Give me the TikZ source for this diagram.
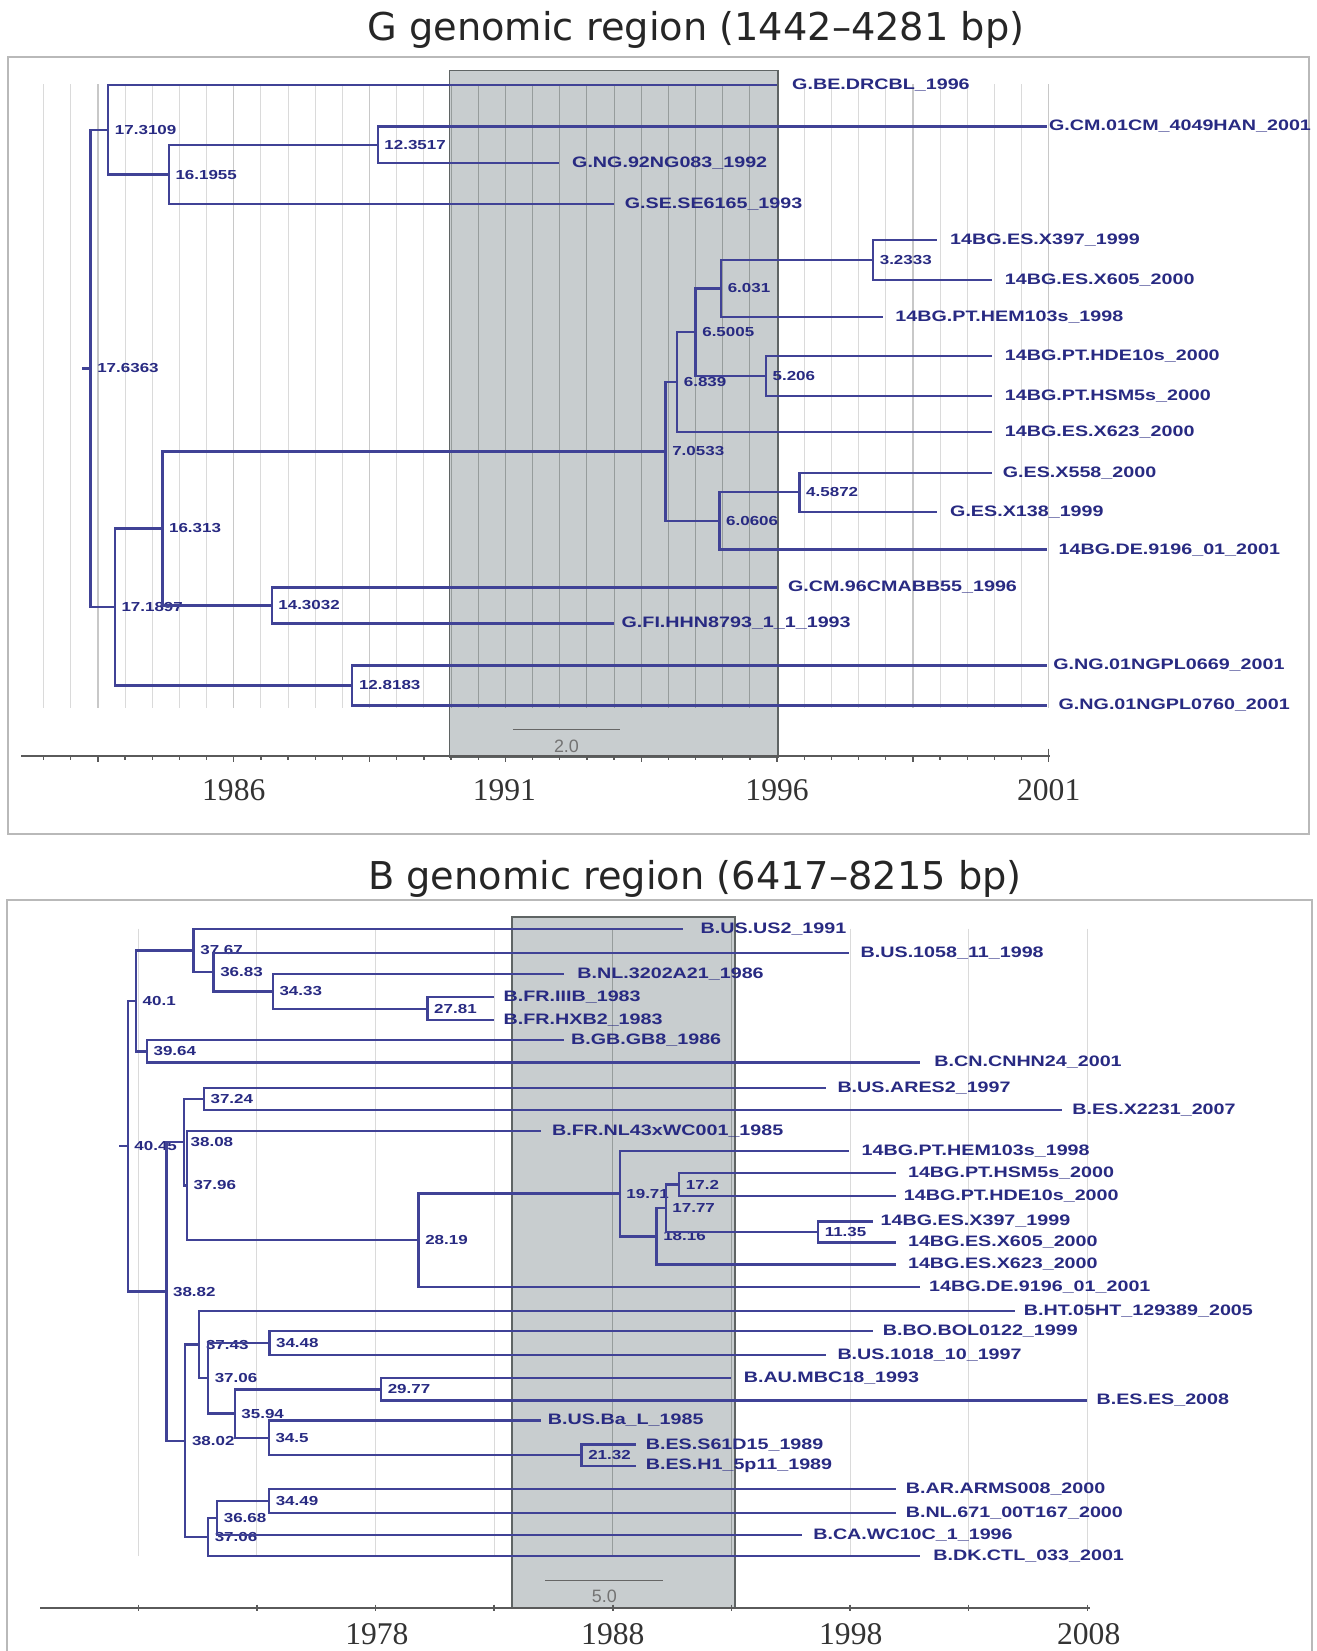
\documentclass[tikz,border=0pt]{standalone}
\usepackage{fontspec}
\setmainfont{Liberation Serif}
\newfontfamily\labfont[FakeStretch=1.3]{Liberation Sans}
\newfontfamily\titfont{DejaVu Sans}
\newfontfamily\sclfont{Liberation Sans}
\definecolor{branch}{RGB}{64,66,150}
\definecolor{labtext}{RGB}{40,42,130}
\definecolor{boxfill}{RGB}{200,205,207}
\definecolor{boxedge}{RGB}{95,100,100}
\definecolor{gridout}{RGB}{218,218,218}
\definecolor{gridmaj}{RGB}{200,200,200}
\definecolor{gridin}{RGB}{150,156,156}
\definecolor{framec}{RGB}{185,185,185}
\definecolor{axisc}{RGB}{90,90,90}
\tikzset{
  brl/.style={draw=branch, line width=1.1pt},
  tiplab/.style={anchor=west, inner sep=0pt, text=labtext, font=\labfont\bfseries\fontsize{7.2}{8}\selectfont},
  nodelab/.style={anchor=west, inner sep=0pt, xshift=3pt, text=labtext, font=\labfont\bfseries\fontsize{6.2}{7}\selectfont},
  gridl/.style={draw=gridout, line width=0.5pt},
  gridM/.style={draw=gridmaj, line width=0.6pt},
  gridi/.style={draw=gridin, line width=0.5pt},
  boxf/.style={fill=boxfill},
  boxe/.style={draw=boxedge, line width=0.8pt},
  frame/.style={draw=framec, line width=0.9pt},
  axl/.style={draw=axisc, line width=0.7pt},
  yrlab/.style={text=black!80, font=\fontsize{15}{16}\selectfont},
  titl/.style={text=black!85, font=\titfont\fontsize{18.2}{20}\selectfont},
  sbar/.style={draw=black!60, line width=0.7pt},
  sblab/.style={text=black!55, font=\sclfont\fontsize{8.5}{9}\selectfont},
}
\newcommand\inode[4]{\coordinate (#1) at (#2,#3); \node[nodelab] (#1l) at (#1) {#4};}
\newcommand\tipn[5]{\coordinate (#1) at (#2,#3); \node[tiplab] (#1l) at (#4,#3) {#5};}
\newcommand\edge[2]{\draw[brl] (#1) |- (#2);}
\begin{document}
\begin{tikzpicture}[x=0.5pt,y=-0.5pt]
\useasboundingbox (0,0) rectangle (1250,1568);
\fill[white] (0,0) rectangle (1250,1568);

% ================= G panel =================
\node[titl] (titleG) at (661,28) {G genomic region (1442–4281 bp)};
\draw[frame] (8,54) rectangle (1243,792);

\foreach \k in {-7,...,30}{\draw[gridl] ({222+\k*25.8},80) -- ({222+\k*25.8},672);}
\foreach \k in {-5,0,...,30}{\draw[gridM] ({222+\k*25.8},80) -- ({222+\k*25.8},672);}
\fill[boxf] (427,67) rectangle (739,719);
\begin{scope}
\clip (427,67) rectangle (739,719);
\foreach \k in {-7,...,30}{\draw[gridi] ({222+\k*25.8},80) -- ({222+\k*25.8},672);}
\end{scope}
\draw[boxe] (427,67) rectangle (739,719);

% axis
\draw[axl] (20,718) -- (997,718);
\foreach \k in {-7,...,30}{\draw[axl] ({222+\k*25.8},718) -- ({222+\k*25.8},721.5);}
\foreach \k in {-5,0,...,30}{\draw[axl] ({222+\k*25.8},718) -- ({222+\k*25.8},724);}
\draw[axl] (996,711) -- (996,718);
\node[yrlab] (yG1) at (222,750) {1986};
\node[yrlab] (yG2) at (479,750) {1991};
\node[yrlab] (yG3) at (738,750) {1996};
\node[yrlab] (yG4) at (996,750) {2001};

% scale bar
\coordinate (sgA) at (487,693);
\coordinate (sgB) at (589,693);
\draw[sbar] (sgA) -- (sgB);
\node[sblab] (sgL) at (538,709) {2.0};

% internal nodes
\inode{g1}{86.0}{349.9}{17.6363}
\inode{g2}{102.8}{123.4}{17.3109}
\inode{g3}{160.3}{165.75}{16.1955}
\inode{g4}{358.7}{137.5}{12.3517}
\inode{g7}{109.0}{576.4}{17.1897}
\inode{g8}{154.2}{501.9}{16.313}
\inode{g9}{258.0}{575}{14.3032}
\inode{g10}{632.1}{428.75}{7.0533}
\inode{g11}{643.1}{362.75}{6.839}
\inode{g13}{660.6}{315.5}{6.5005}
\inode{g14}{684.8}{274}{6.031}
\inode{g15}{829.2}{247}{3.2333}
\inode{g16}{727.4}{357}{5.206}
\inode{g17}{683.3}{494.75}{6.0606}
\inode{g18}{759.3}{467.5}{4.5872}
\inode{g12}{334.6}{651}{12.8183}

% tips
\tipn{t1}{738}{81}{752}{G.BE.DRCBL\_1996}
\tipn{t2}{994}{120}{996}{G.CM.01CM\_4049HAN\_2001}
\tipn{t3}{531}{155}{543}{G.NG.92NG083\_1992}
\tipn{t4}{583}{194}{593}{G.SE.SE6165\_1993}
\tipn{t5}{890}{228}{902}{14BG.ES.X397\_1999}
\tipn{t6}{942}{266}{954}{14BG.ES.X605\_2000}
\tipn{t7}{839}{301}{850}{14BG.PT.HEM103s\_1998}
\tipn{t8}{942}{338}{954}{14BG.PT.HDE10s\_2000}
\tipn{t9}{942}{376}{954}{14BG.PT.HSM5s\_2000}
\tipn{t10}{942}{410}{954}{14BG.ES.X623\_2000}
\tipn{t11}{942}{449}{952}{G.ES.X558\_2000}
\tipn{t12}{890}{486}{902}{G.ES.X138\_1999}
\tipn{t13}{994}{522}{1005}{14BG.DE.9196\_01\_2001}
\tipn{t14}{738}{558}{748}{G.CM.96CMABB55\_1996}
\tipn{t15}{583}{592}{590}{G.FI.HHN8793\_1\_1\_1993}
\tipn{t16}{994}{632}{1000}{G.NG.01NGPL0669\_2001}
\tipn{t17}{994}{670}{1005}{G.NG.01NGPL0760\_2001}

% root tick
\draw[brl] ([xshift=-4pt]g1) -- (g1);
% edges
\edge{g1}{g2} \edge{g1}{g7}
\edge{g2}{t1} \edge{g2}{g3}
\edge{g3}{g4} \edge{g3}{t4}
\edge{g4}{t2} \edge{g4}{t3}
\edge{g7}{g8} \edge{g7}{g12}
\edge{g8}{g10} \edge{g8}{g9}
\edge{g10}{g11} \edge{g10}{g17}
\edge{g11}{g13} \edge{g11}{t10}
\edge{g13}{g14} \edge{g13}{g16}
\edge{g14}{g15} \edge{g14}{t7}
\edge{g15}{t5} \edge{g15}{t6}
\edge{g16}{t8} \edge{g16}{t9}
\edge{g17}{g18} \edge{g17}{t13}
\edge{g18}{t11} \edge{g18}{t12}
\edge{g9}{t14} \edge{g9}{t15}
\edge{g12}{t16} \edge{g12}{t17}

% ================= B panel =================
\node[titl] (titleB) at (660,835) {B genomic region (6417–8215 bp)};
\draw[frame] (7,855) rectangle (1246,1580);

\foreach \k in {-4,...,4}{\draw[gridl] ({582+\k*112.65},882) -- ({582+\k*112.65},1478);}
\fill[boxf] (486,871) rectangle (698,1527);
\begin{scope}
\clip (486,871) rectangle (698,1527);
\foreach \k in {-4,...,4}{\draw[gridi] ({582+\k*112.65},882) -- ({582+\k*112.65},1478);}
\end{scope}
\draw[boxe] (486,871) rectangle (698,1527);

\draw[axl] (38,1527) -- (1035,1527);
\foreach \k in {-4,...,4}{\draw[axl] ({582+\k*112.65},1524) -- ({582+\k*112.65},1530);}
\node[yrlab] (yB1) at (358,1552) {1978};
\node[yrlab] (yB2) at (582,1552) {1988};
\node[yrlab] (yB3) at (808,1552) {1998};
\node[yrlab] (yB4) at (1034,1552) {2008};

\coordinate (sbA) at (518,1501);
\coordinate (sbB) at (630,1501);
\draw[sbar] (sbA) -- (sbB);
\node[sblab] (sbL) at (574,1516) {5.0};

% internal nodes
\inode{ba}{121.3}{1088.6}{40.45}
\inode{bb}{129.1}{950.6}{40.1}
\inode{bc}{183.9}{902.6}{37.67}
\inode{bd}{202.8}{923.25}{36.83}
\inode{be}{259.1}{941.5}{34.33}
\inode{bf}{406.0}{958}{27.81}
\inode{bg}{139.5}{998.5}{39.64}
\inode{bh}{174.7}{1084.7}{38.08}
\inode{bi}{193.6}{1043.5}{37.24}
\inode{bj}{177.4}{1125.9}{37.96}
\inode{bk}{397.5}{1177.8}{28.19}
\inode{bl}{588.5}{1133.6}{19.71}
\inode{bm}{623.5}{1174.25}{18.16}
\inode{bn}{632.2}{1147.5}{17.77}
\inode{bo}{645.1}{1125}{17.2}
\inode{bp}{776.9}{1170}{11.35}
\inode{bq}{158.0}{1226.6}{38.82}
\inode{br}{176.0}{1368.5}{38.02}
\inode{bs}{189.3}{1277}{37.43}
\inode{bt}{255.8}{1275.5}{34.48}
\inode{bu}{197.6}{1309}{37.06}
\inode{bv}{222.9}{1342.5}{35.94}
\inode{bw}{361.9}{1319.5}{29.77}
\inode{bx}{255.3}{1365.5}{34.5}
\inode{by}{552.3}{1382}{21.32}
\inode{bz}{206.2}{1441.75}{36.68}
\inode{bA}{255.5}{1425.5}{34.49}
\inode{bB}{197.6}{1459.9}{37.06}

% tips
\tipn{b1}{649}{882}{665}{B.US.US2\_1991}
\tipn{b2}{806}{905}{817}{B.US.1058\_11\_1998}
\tipn{b3}{536}{925}{548}{B.NL.3202A21\_1986}
\tipn{b4}{469}{947}{478}{B.FR.IIIB\_1983}
\tipn{b5}{469}{969}{478}{B.FR.HXB2\_1983}
\tipn{b6}{536}{988}{542}{B.GB.GB8\_1986}
\tipn{b7}{874}{1009}{887}{B.CN.CNHN24\_2001}
\tipn{b8}{784}{1033}{795}{B.US.ARES2\_1997}
\tipn{b9}{1009}{1054}{1018}{B.ES.X2231\_2007}
\tipn{b10}{514}{1074}{524}{B.FR.NL43xWC001\_1985}
\tipn{b11}{806}{1093}{818}{14BG.PT.HEM103s\_1998}
\tipn{b12}{851}{1114}{862}{14BG.PT.HSM5s\_2000}
\tipn{b13}{851}{1136}{858}{14BG.PT.HDE10s\_2000}
\tipn{b14}{829}{1160}{836}{14BG.ES.X397\_1999}
\tipn{b15}{851}{1180}{862}{14BG.ES.X605\_2000}
\tipn{b16}{851}{1201}{862}{14BG.ES.X623\_2000}
\tipn{b17}{874}{1222}{882}{14BG.DE.9196\_01\_2001}
\tipn{b18}{964}{1245}{972}{B.HT.05HT\_129389\_2005}
\tipn{b19}{829}{1264}{838}{B.BO.BOL0122\_1999}
\tipn{b20}{784}{1287}{795}{B.US.1018\_10\_1997}
\tipn{b21}{694}{1309}{706}{B.AU.MBC18\_1993}
\tipn{b22}{1032}{1330}{1041}{B.ES.ES\_2008}
\tipn{b23}{514}{1349}{520}{B.US.Ba\_L\_1985}
\tipn{b24}{604}{1372}{613}{B.ES.S61D15\_1989}
\tipn{b25}{604}{1392}{613}{B.ES.H1\_5p11\_1989}
\tipn{b26}{851}{1414}{860}{B.AR.ARMS008\_2000}
\tipn{b27}{851}{1437}{860}{B.NL.671\_00T167\_2000}
\tipn{b28}{762}{1458}{772}{B.CA.WC10C\_1\_1996}
\tipn{b29}{874}{1478}{886}{B.DK.CTL\_033\_2001}

\draw[brl] ([xshift=-4pt]ba) -- (ba);
\edge{ba}{bb} \edge{ba}{bq}
\edge{bb}{bc} \edge{bb}{bg}
\edge{bc}{b1} \edge{bc}{bd}
\edge{bd}{b2} \edge{bd}{be}
\edge{be}{b3} \edge{be}{bf}
\edge{bf}{b4} \edge{bf}{b5}
\edge{bg}{b6} \edge{bg}{b7}
\edge{bq}{bh} \edge{bq}{br}
\edge{bh}{bi} \edge{bh}{bj}
\edge{bi}{b8} \edge{bi}{b9}
\edge{bj}{b10} \edge{bj}{bk}
\edge{bk}{bl} \edge{bk}{b17}
\edge{bl}{b11} \edge{bl}{bm}
\edge{bm}{bn} \edge{bm}{b16}
\edge{bn}{bo} \edge{bn}{bp}
\edge{bo}{b12} \edge{bo}{b13}
\edge{bp}{b14} \edge{bp}{b15}
\edge{br}{bs} \edge{br}{bB}
\edge{bs}{b18} \edge{bs}{bu}
\edge{bu}{bt} \edge{bu}{bv}
\edge{bt}{b19} \edge{bt}{b20}
\edge{bv}{bw} \edge{bv}{bx}
\edge{bw}{b21} \edge{bw}{b22}
\edge{bx}{b23} \edge{bx}{by}
\edge{by}{b24} \edge{by}{b25}
\edge{bB}{bz} \edge{bB}{b29}
\edge{bz}{bA} \edge{bz}{b28}
\edge{bA}{b26} \edge{bA}{b27}
\end{tikzpicture}
\end{document}
